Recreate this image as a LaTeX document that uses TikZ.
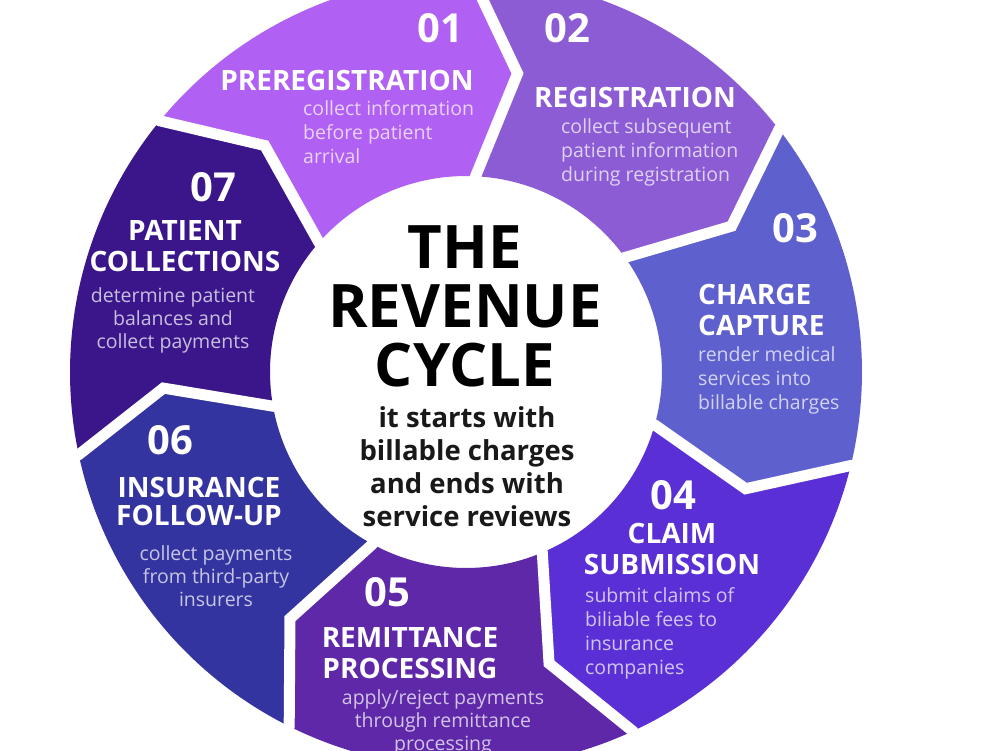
\documentclass[tikz,border=0pt]{standalone}
\usepackage{fontspec}
\setmainfont{Open Sans}
\definecolor{c1}{HTML}{B060F2}
\definecolor{c2}{HTML}{8C5CD4}
\definecolor{c3}{HTML}{5E60CE}
\definecolor{c4}{HTML}{5A30D6}
\definecolor{c5}{HTML}{5E28A8}
\definecolor{c6}{HTML}{3434A0}
\definecolor{c7}{HTML}{3A168A}
\begin{document}
\begin{tikzpicture}[x=1pt,y=1pt]
\def\Rout{396}\def\Rin{196}\def\Rmid{303}
\useasboundingbox (-466,-378) rectangle (534,372);
\clip (-466,-378) rectangle (534,372);
\fill[white] (-466,-378) rectangle (534,372);
% ring segments
\foreach \k/\col in {0/c1,1/c2,2/c3,3/c4,4/c5,5/c6,6/c7}{
  \pgfmathsetmacro\ba{139.63-51.43*\k}
  \pgfmathsetmacro\bz{\ba-51.43}
  \fill[\col] ({\ba+1}:\Rout) arc[start angle={\ba+1}, end angle={\bz+1}, radius=\Rout]
     -- ({\bz-8}:\Rmid) -- ({\bz-1}:\Rin)
     arc[start angle={\bz-1}, end angle={\ba-1}, radius=\Rin]
     -- ({\ba-8}:\Rmid) -- cycle;
}
% white separators
\foreach \k in {0,...,6}{
  \pgfmathsetmacro\ba{139.63-51.43*\k}
  \draw[white, line width=11, line join=miter]
    ({\ba+1.5}:{\Rout+20}) -- ({\ba+1}:\Rout) -- ({\ba-8}:\Rmid) -- ({\ba-1}:\Rin) -- ({\ba-1.3}:{\Rin-20});
}
\begin{scope}[shift={(-466,372)}, yscale=-1]
\tikzset{
  numtxt/.style={text=white, font=\fontsize{40}{40}\selectfont\bfseries, inner sep=0},
  titletxt/.style={text=white, font=\fontsize{28}{31}\selectfont\bfseries, inner sep=0, align=center},
  desctxt/.style={font=\fontsize{19.5}{24}\selectfont, inner sep=0},
}
% 01
\node[numtxt] (n1) at (440,28) {01};
\node[titletxt] (t1) at (347,80) {PREREGISTRATION};
\node[desctxt, text=white!72!c1, align=left, anchor=west] (d1) at (303,132) {collect information\\before patient\\arrival};
% 02
\node[numtxt] (n2) at (567,28) {02};
\node[titletxt] (t2) at (635,97) {REGISTRATION};
\node[desctxt, text=white!72!c2, align=left, anchor=west] (d2) at (561,152) {collect subsequent\\patient information\\during registration};
% 03
\node[numtxt] (n3) at (795,228) {03};
\node[titletxt, align=left, anchor=west] (t3) at (698,309.5) {CHARGE\\CAPTURE};
\node[desctxt, text=white!72!c3, align=left, anchor=west] (d3) at (698,380) {render medical\\services into\\billable charges};
% 04
\node[numtxt] (n4) at (673,495) {04};
\node[titletxt] (t4) at (672,549) {CLAIM\\SUBMISSION};
\node[desctxt, text=white!72!c4, align=left, anchor=west] (d4) at (585,633) {submit claims of\\biliable fees to\\insurance\\companies};
% 05
\node[numtxt] (n5) at (387,592) {05};
\node[titletxt] (t5) at (410,652.5) {REMITTANCE\\PROCESSING};
\node[desctxt, text=white!72!c5, align=center, font=\fontsize{19.5}{23}\selectfont] (d5) at (443,722) {apply/reject payments\\through remittance\\processing};
% 06
\node[numtxt] (n6) at (170,440) {06};
\node[titletxt, font=\fontsize{28}{28}\selectfont\bfseries] (t6) at (199,501.5) {INSURANCE\\FOLLOW-UP};
\node[desctxt, text=white!72!c6, align=center, font=\fontsize{19.5}{23}\selectfont] (d6) at (216,576) {collect payments\\from third-party\\insurers};
% 07
\node[numtxt] (n7) at (213,187) {07};
\node[titletxt] (t7) at (185,246.5) {PATIENT\\COLLECTIONS};
\node[desctxt, text=white!72!c7, align=center, font=\fontsize{19.5}{23}\selectfont] (d7) at (173,320) {determine patient\\balances and\\collect payments};
% centre
\node[inner sep=0, align=center, font=\fontsize{60}{59}\selectfont\bfseries, text=black] (title) at (465,306) {THE\\REVENUE\\CYCLE};
\node[inner sep=0, align=center, font=\fontsize{27.5}{33}\selectfont\bfseries, text=black!90] (sub) at (467,467) {it starts with\\billable charges\\and ends with\\service reviews};
\end{scope}
\end{tikzpicture}
\end{document}
